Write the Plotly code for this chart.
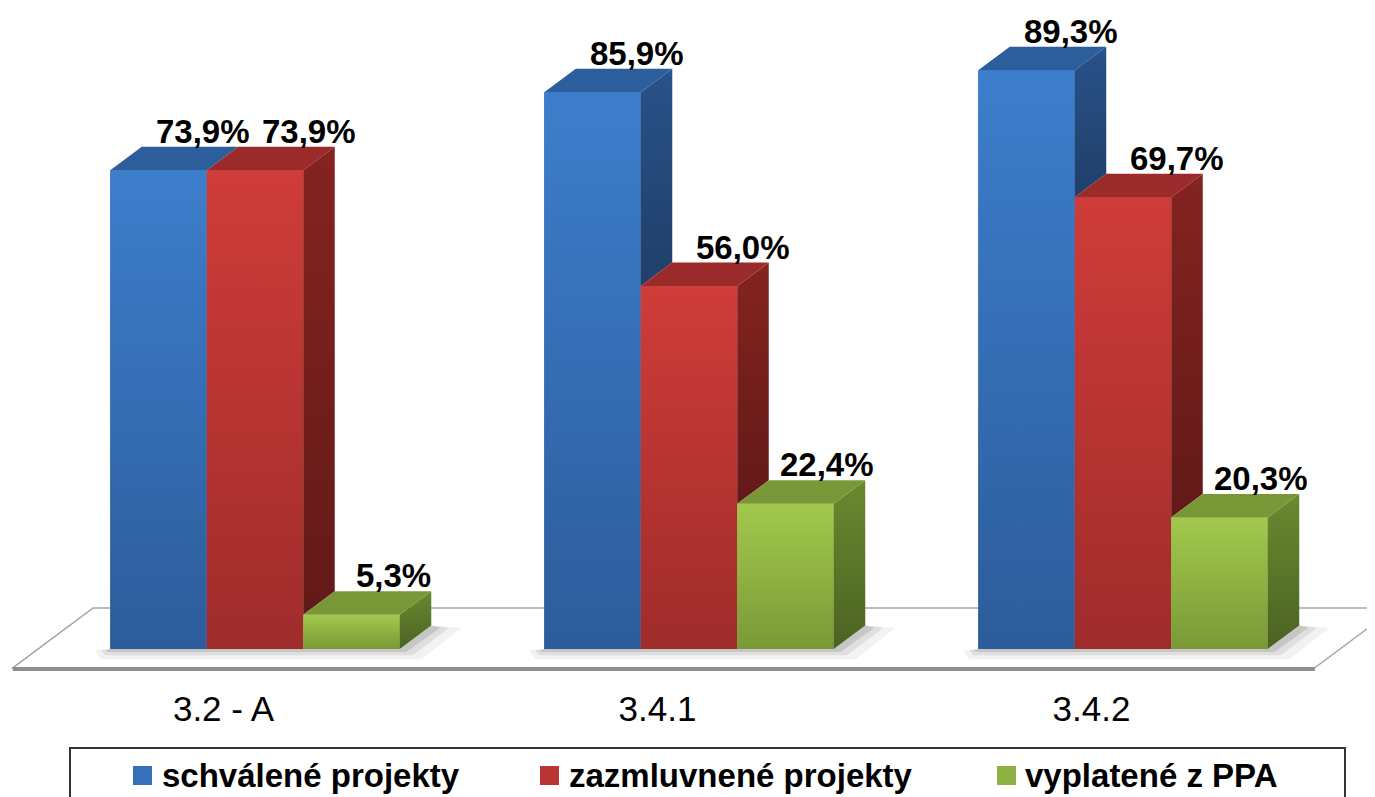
import plotly.graph_objects as go

# ---------------- data ----------------
categories = ["3.2 - A", "3.4.1", "3.4.2"]
series_names = ["schválené projekty", "zazmluvnené projekty", "vyplatené z PPA"]
schvalene = [73.9, 85.9, 89.3]
zazmluvnene = [73.9, 56.0, 69.7]
vyplatene = [5.3, 22.4, 20.3]
series_values = [schvalene, zazmluvnene, vyplatene]

# ---------------- style ----------------
OFF = 8                        # page body margin
W, H = 1375 - OFF, 797 - OFF
MB = 117                       # bottom margin (tick labels + legend)
PLOT_H = H - MB
PX_PER_Y = 6.48                # pixels per percentage point
ZERO_PX = 649 - OFF            # pixel row of the bars' base
GROUP_PX = 434                 # pixels between category centres
FIRST_PX = 255 - OFF           # pixel column of first category centre

front_col = ["#3571B9", "#B93533", "#8DB142"]
front_top = ["#3D7ECC", "#CF3C39", "#A2C94D"]
front_bot = ["#2D5C9B", "#9F2C2B", "#7A9936"]
top_col = ["#2C5E9B", "#9B2B2A", "#789838"]
side_top = ["#285289", "#85231F", "#6A8A30"]
side_bot = ["#213F69", "#621A18", "#4B6222"]
label_shift = [13, 22, 10]

bar_w = 96.5 / GROUP_PX        # bar width in category units
ddx = 31.5 / GROUP_PX          # depth vector (x part)
ddy = 23.5 / PX_PER_Y          # depth vector (y part)
floor_front, floor_back = -0.8, 1.75
label_depth = -1.0

ymax = ZERO_PX / PX_PER_Y
ymin = ymax - PLOT_H / PX_PER_Y
xmin = -FIRST_PX / GROUP_PX
xmax = xmin + W / GROUP_PX

xpos = list(range(len(categories)))
n_ser = len(series_values)
FONT = "Arial, Liberation Sans"

fig = go.Figure()

# front faces (real bars)
for j, (name, vals) in enumerate(zip(series_names, series_values)):
    fig.add_trace(go.Bar(
        x=xpos, y=vals, name=name, width=bar_w,
        offset=(j - n_ser / 2) * bar_w,
        marker=dict(color=front_col[j], line=dict(width=0)),
        showlegend=False, hoverinfo="skip"))


def poly(xs, ys, color=None, grad=None):
    kw = dict(x=xs + [xs[0]], y=ys + [ys[0]], mode="lines", fill="toself",
              line=dict(width=0), showlegend=False, hoverinfo="skip")
    if grad is not None:
        kw["fillgradient"] = dict(type="vertical",
                                  colorscale=[[0, grad[0]], [1, grad[1]]])
    else:
        kw["fillcolor"] = color
    fig.add_trace(go.Scatter(**kw))


annotations = []
for i in xpos:
    for j, vals in enumerate(series_values):
        v = vals[i]
        L = i + (j - n_ser / 2) * bar_w
        R = L + bar_w
        # shading over the front face
        poly([L, R, R, L], [0, 0, v, v], grad=(front_bot[j], front_top[j]))
        # side face (only the part not hidden by the next bar)
        nxt = series_values[j + 1][i] if j + 1 < n_ser else 0
        b = max(nxt, 0)
        if v > b:
            poly([R, R + ddx, R + ddx, R], [b, b + ddy, v + ddy, v],
                 grad=(side_bot[j], side_top[j]))
        # top face
        poly([L, R, R + ddx, L + ddx], [v, v, v + ddy, v + ddy], color=top_col[j])
        annotations.append(dict(
            x=(L + R) / 2 + ddx, y=v + ddy, xref="x", yref="y",
            text=f"{v:.1f}".replace(".", ",") + "%", showarrow=False,
            yanchor="bottom", xanchor="center", xshift=label_shift[j], yshift=-5,
            font=dict(family=FONT, size=33, color="black", weight="bold")))

# ---------------- floor and shadows ----------------
shapes = []
fx0, fx1 = xpos[0] - 0.5, xpos[-1] + 0.5


def pt(x, d):
    return x + d * ddx, d * ddy


corners = [pt(fx0, floor_front), pt(fx1, floor_front),
           pt(fx1, floor_back), pt(fx0, floor_back)]
path = "M " + " L ".join(f"{cx},{cy}" for cx, cy in corners) + " Z"
shapes.append(dict(type="path", path=path, xref="x", yref="y", layer="below",
                   fillcolor="#FFFFFF", line=dict(color="#A6A6A6", width=1.5)))
(a0, b0), (a1, b1) = corners[0], corners[1]
shapes.append(dict(type="line", x0=a0, y0=b0 - 0.2, x1=a1, y1=b1 - 0.2,
                   xref="x", yref="y", layer="below",
                   line=dict(color="#8E8E8E", width=4)))

for i in xpos:
    L = i - n_ser / 2 * bar_w
    R = L + n_ser * bar_w
    for spread, alpha in [(1.0, 0.05), (0.6, 0.08), (0.3, 0.11)]:
        pts = [(L - 0.035 * spread, -0.2), (L, 0), (R, 0), (R + ddx, ddy),
               (R + ddx + 0.07 * spread, ddy * 0.9),
               (R + 0.05 * spread, -1.6 * spread),
               (L - 0.02 * spread, -1.6 * spread)]
        p = "M " + " L ".join(f"{cx},{cy}" for cx, cy in pts) + " Z"
        shapes.append(dict(type="path", path=p, xref="x", yref="y", layer="below",
                           fillcolor=f"rgba(0,0,0,{alpha})", line=dict(width=0)))


# ---------------- legend (drawn) ----------------
def xp(px):
    return (px - OFF) / W


def yp(py):
    return (PLOT_H - (py - OFF)) / PLOT_H


shapes.append(dict(type="rect", xref="paper", yref="paper",
                   x0=xp(70), x1=xp(1345), y0=yp(748), y1=yp(815),
                   line=dict(color="#333333", width=2), fillcolor="white"))
sq_px = [133, 540, 997]
tx_px = [160, 567, 1023]
for j, name in enumerate(series_names):
    shapes.append(dict(type="rect", xref="paper", yref="paper",
                       x0=xp(sq_px[j]), x1=xp(sq_px[j] + 19),
                       y0=yp(785), y1=yp(766),
                       line=dict(width=0), fillcolor=front_col[j]))
    annotations.append(dict(
        x=xp(tx_px[j]), y=yp(775), xref="paper", yref="paper", text=name,
        showarrow=False, xanchor="left", yanchor="middle",
        font=dict(family=FONT, size=33, color="black", weight="bold")))

tick_pos = [x + label_depth * ddx for x in xpos]

fig.update_layout(
    width=W, height=H, autosize=False,
    margin=dict(l=0, r=0, t=0, b=MB, pad=0),
    paper_bgcolor="white", plot_bgcolor="white",
    barmode="overlay", hovermode=False,
    xaxis=dict(range=[xmin, xmax], tickvals=tick_pos, ticktext=categories,
               showgrid=False, zeroline=False, showline=False, ticks="",
               ticklabelstandoff=5, fixedrange=True,
               tickfont=dict(family=FONT, size=35, color="black")),
    yaxis=dict(range=[ymin, ymax], visible=False, fixedrange=True),
    shapes=shapes, annotations=annotations,
)

fig.write_html("out.html")
